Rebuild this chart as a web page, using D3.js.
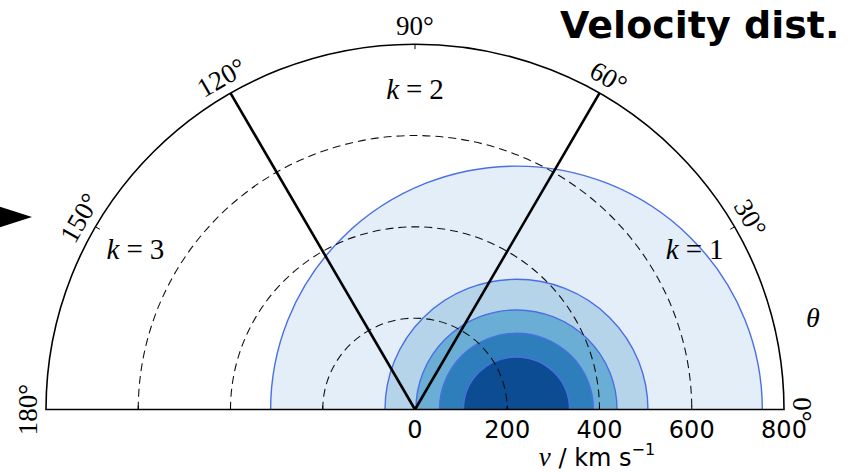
<!DOCTYPE html>
<html><head><meta charset="utf-8">
<script src="https://cdn.jsdelivr.net/npm/d3@7"></script>
<style>body{margin:0;background:#fff}svg{display:block}</style>
</head><body>
<svg id="c" width="848" height="472"></svg>
<script>
// ---- data ----
const vMax = 800;
const radialTicks = [200, 400, 600];
const radialTickLabels = ["0", "200", "400", "600", "800"];
const radialTickValues = [0, 200, 400, 600, 800];
const thetaTicks = [0, 30, 60, 90, 120, 150, 180];
const thetaTickLabels = ["0°", "30°", "60°", "90°", "120°", "150°", "180°"];
const sectorBounds = [60, 120];
const sectorLabels = ["1", "2", "3"];
const sectorLabelAngles = [30, 90, 150];
const sectorLabelRadii = [700, 700, 700];
const contourCenter = 220;            // km/s along theta = 0
const contourRadii = [533, 285, 218, 167, 115];
const contourColors = ["#e3eef9", "#b6d4e9", "#6aaed6", "#2e7ebc", "#0b4c93"];

// ---- layout ----
const svg = d3.select("#c");
const ox = 415, oy = 409.5, R = 369;
const r = d3.scaleLinear().domain([0, vMax]).range([0, R]);
const rad = d => d * Math.PI / 180;

const g = svg.append("g").attr("transform", `translate(${ox},${oy}) scale(1,0.99)`);

function halfCircle(cxv, rv) {
  const p = d3.path();
  const c = r(cxv), rr = r(rv);
  p.moveTo(c - rr, 0);
  p.arc(c, 0, rr, Math.PI, 2 * Math.PI);
  return p.toString();
}

// filled contours
g.selectAll("path.fill").data(contourRadii).join("path")
  .attr("class", "fill")
  .attr("d", d => halfCircle(contourCenter, d) + "Z")
  .attr("fill", (d, i) => contourColors[i])
  .attr("stroke", "none");
g.selectAll("path.edge").data(contourRadii).join("path")
  .attr("class", "edge")
  .attr("d", d => halfCircle(contourCenter, d))
  .attr("fill", "none")
  .attr("stroke", "#4a6fe3")
  .attr("stroke-width", 1.4);

// dashed radial grid
g.selectAll("path.grid").data(radialTicks).join("path")
  .attr("class", "grid")
  .attr("d", d => halfCircle(0, d))
  .attr("fill", "none")
  .attr("stroke", "#111")
  .attr("stroke-width", 1.1)
  .attr("stroke-dasharray", "8,5");

// sector boundaries
g.selectAll("line.sector").data(sectorBounds).join("line")
  .attr("class", "sector")
  .attr("x1", 0).attr("y1", 0)
  .attr("x2", d => r(vMax) * Math.cos(rad(d)))
  .attr("y2", d => -r(vMax) * Math.sin(rad(d)))
  .attr("stroke", "#000").attr("stroke-width", 2.6);

// frame
g.append("path").attr("d", halfCircle(0, vMax) + "Z")
  .attr("fill", "none").attr("stroke", "#000").attr("stroke-width", 1.6);

// angular ticks (inward)
g.selectAll("line.tt").data(thetaTicks).join("line")
  .attr("class", "tt")
  .attr("x1", d => r(vMax) * Math.cos(rad(d)))
  .attr("y1", d => -r(vMax) * Math.sin(rad(d)))
  .attr("x2", d => (r(vMax) - 5) * Math.cos(rad(d)))
  .attr("y2", d => -(r(vMax) - 5) * Math.sin(rad(d)))
  .attr("stroke", "#000").attr("stroke-width", 1);

// radial ticks along baseline (both sides)
const baseTicks = radialTicks.flatMap(d => [d, -d]);
g.selectAll("line.rt").data(baseTicks).join("line")
  .attr("class", "rt")
  .attr("x1", d => d < 0 ? -r(-d) : r(d)).attr("x2", d => d < 0 ? -r(-d) : r(d))
  .attr("y1", 0).attr("y2", -4)
  .attr("stroke", "#000").attr("stroke-width", 1);

// angular labels
const lr = R + 18;
svg.selectAll("text.tl").data(thetaTicks).join("text")
  .attr("class", "tl")
  .attr("transform", d => `translate(${ox + lr * Math.cos(rad(d))},${oy - lr * 0.99 * Math.sin(rad(d))}) rotate(${90 - d})`)
  .attr("text-anchor", "middle")
  .attr("dominant-baseline", "central")
  .attr("font-family", "Liberation Serif, DejaVu Serif, serif")
  .attr("font-size", 27)
  .text((d, i) => thetaTickLabels[i]);

// radial labels
svg.selectAll("text.rl").data(radialTickValues).join("text")
  .attr("class", "rl")
  .attr("x", d => ox + r(d)).attr("y", 438)
  .attr("text-anchor", "middle")
  .attr("font-family", "DejaVu Sans, sans-serif")
  .attr("font-size", 24)
  .text((d, i) => radialTickLabels[i]);

// sector labels
sectorLabels.forEach((lab, i) => {
  const a = rad(sectorLabelAngles[i]);
  const t = svg.append("text")
    .attr("x", ox + r(sectorLabelRadii[i]) * Math.cos(a))
    .attr("y", oy - r(sectorLabelRadii[i]) * 0.99 * Math.sin(a) + 9)
    .attr("text-anchor", "middle")
    .attr("font-family", "Liberation Serif, DejaVu Serif, serif")
    .attr("font-size", 29);
  t.append("tspan").attr("font-style", "italic").text("k");
  t.append("tspan").attr("dx", 7).text("=");
  t.append("tspan").attr("dx", 7).text(lab);
});

// axis labels
const xl = svg.append("text").attr("x", 597).attr("y", 466).attr("text-anchor", "middle")
  .attr("font-family", "DejaVu Sans, sans-serif").attr("font-size", 24);
xl.append("tspan").attr("font-family", "Liberation Serif, serif").attr("font-style", "italic").attr("font-size", 27).text("v");
xl.append("tspan").text(" / km s");
xl.append("tspan").attr("font-size", 16).attr("dy", -11).text("−1");

svg.append("text").attr("x", 813).attr("y", 327).attr("text-anchor", "middle")
  .attr("font-family", "Liberation Serif, serif").attr("font-style", "italic").attr("font-size", 28)
  .text("θ");

// title
svg.append("text").attr("x", 560).attr("y", 38)
  .attr("font-family", "DejaVu Sans, sans-serif").attr("font-weight", "bold").attr("font-size", 38)
  .text("Velocity dist.");

// pointer triangle
svg.append("path").attr("d", "M-20,200.5L32,217L-20,233.5Z").attr("fill", "#000");
</script>
</body></html>
